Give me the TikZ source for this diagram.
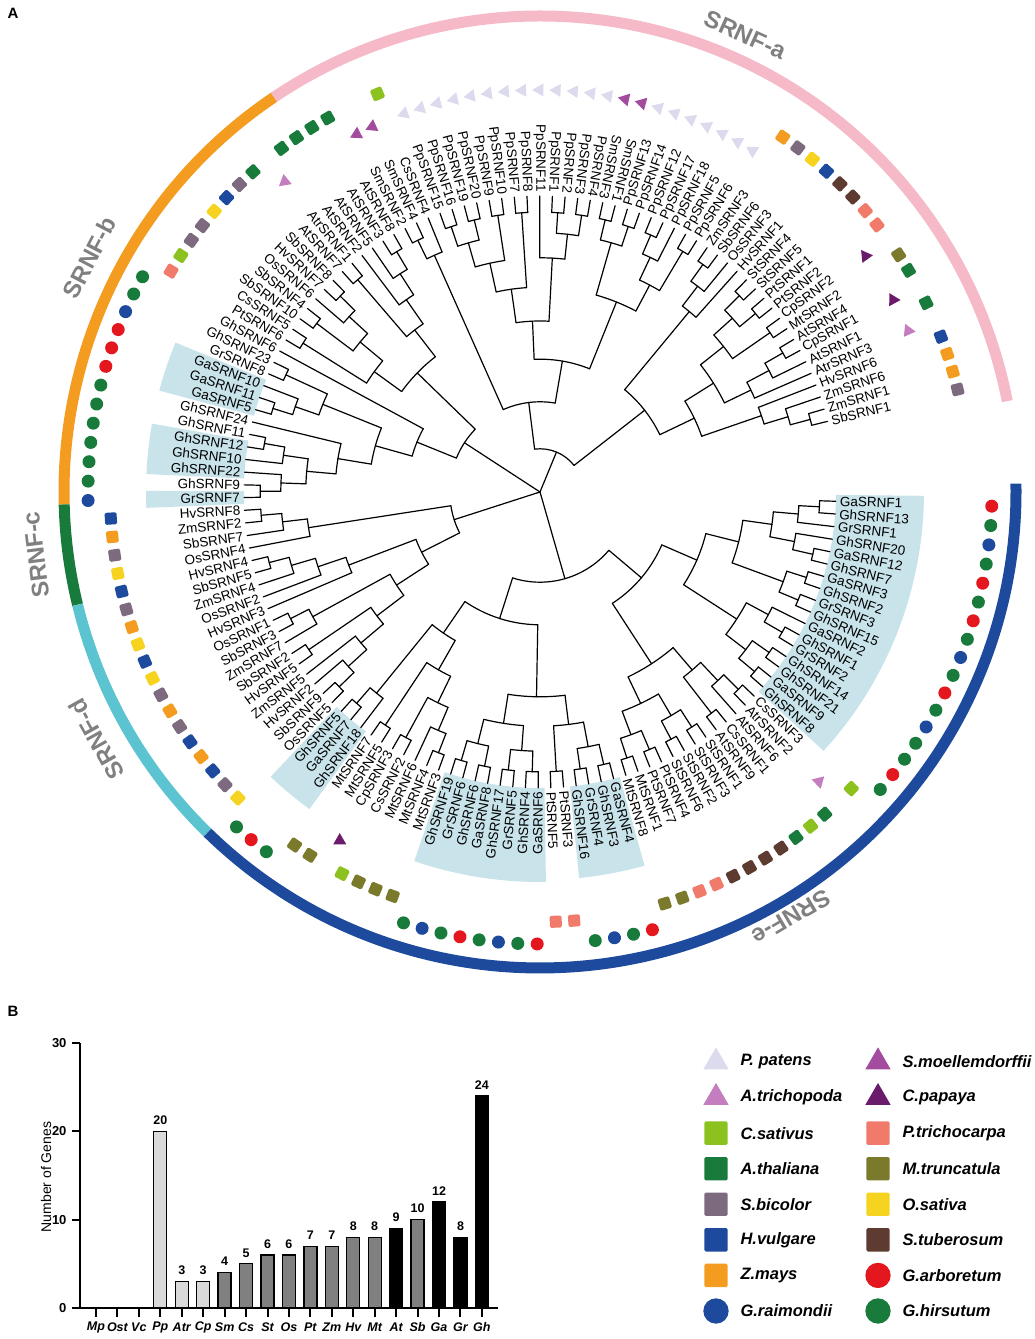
\documentclass[tikz,border=0pt]{standalone}
\usepackage{fontspec}
\setmainfont{Liberation Sans}
\usetikzlibrary{shapes.geometric}
\definecolor{cPp}{HTML}{DCDBEE}
\definecolor{cSm}{HTML}{A34C9E}
\definecolor{cAtr}{HTML}{C47DBF}
\definecolor{cCp}{HTML}{6A1B6B}
\definecolor{cCs}{HTML}{8CC21F}
\definecolor{cAt}{HTML}{187B3B}
\definecolor{cSb}{HTML}{7D6A7F}
\definecolor{cHv}{HTML}{1D4A9D}
\definecolor{cZm}{HTML}{F39C1F}
\definecolor{cPt}{HTML}{F17B6B}
\definecolor{cMt}{HTML}{7B792B}
\definecolor{cOs}{HTML}{F6D31F}
\definecolor{cSt}{HTML}{5D3B31}
\definecolor{cGa}{HTML}{E3171D}
\definecolor{ringA}{HTML}{F5B9C8}
\definecolor{ringD}{HTML}{5CC4D1}
\definecolor{hlblue}{HTML}{C8E3EA}
\definecolor{grpgray}{HTML}{808080}
\definecolor{barlight}{HTML}{D9D9D9}
\definecolor{barmid}{HTML}{808080}
\tikzset{
	branch/.style={line width=1.2,line cap=round},
	lbl/.style={font=\fontsize{13.5}{15}\selectfont,inner sep=0pt},
	mtri/.style={regular polygon,regular polygon sides=3,minimum size=15,inner sep=0pt},
	msq/.style={rectangle,rounded corners=1.5,minimum size=12,inner sep=0pt},
	mdot/.style={circle,minimum size=13,inner sep=0pt},
	ring/.style={line width=11},
	grp/.style={font=\fontsize{24}{28}\selectfont\bfseries,text=grpgray},
	panel/.style={font=\fontsize{15}{17}\selectfont\bfseries},
	axisline/.style={line width=2},
	ticklbl/.style={font=\fontsize{13}{15}\selectfont\bfseries,anchor=east},
	catlbl/.style={font=\fontsize{12.5}{14}\selectfont\bfseries\itshape},
	vallbl/.style={font=\fontsize{12.5}{14}\selectfont\bfseries},
	legtxt/.style={font=\fontsize{16.5}{19}\selectfont\bfseries\itshape,anchor=west}
}
\makeatletter
% species -> mark shape and colour
\def\defsp#1#2#3{\expandafter\def\csname stl@#1\endcsname{#2,fill=#3}%
	\expandafter\def\csname shp@#1\endcsname{#2}}
\defsp{Pp}{mtri}{cPp}\defsp{Sm}{mtri}{cSm}\defsp{Atr}{mtri}{cAtr}\defsp{Cp}{mtri}{cCp}
\defsp{Cs}{msq}{cCs}\defsp{At}{msq}{cAt}\defsp{Sb}{msq}{cSb}\defsp{Hv}{msq}{cHv}
\defsp{Zm}{msq}{cZm}\defsp{Pt}{msq}{cPt}\defsp{Mt}{msq}{cMt}\defsp{Os}{msq}{cOs}
\defsp{St}{msq}{cSt}\defsp{Gr}{mdot}{cHv}\defsp{Ga}{mdot}{cGa}\defsp{Gh}{mdot}{cAt}
\def\r@mtri{402}\def\r@msq{430}\def\r@mdot{452}
\def\Rtip{296}\def\Rlab{300}
\def\astart{13.8}\def\astep{2.46}
\newcount\leafno
\newif\ifcl
\gdef\lastang{0}\gdef\lastrad{0}\gdef\lasth{0}
\def\isclade#1#2\relax{\ifcat\relax\noexpand#1\cltrue\else\clfalse\fi}
\def\getsp#1SRNF#2\@nil{\def\spc{#1}}
\def\mknode#1{\node[#1,rotate=\lfang] (mk\the\leafno) at (\lfang:\mkrad) {};}
% one leaf: label, species mark
\newcommand\leaf[1]{%
	\global\advance\leafno by 1
	\pgfmathsetmacro\lfang{\astart+(\the\leafno-1)*\astep}%
	\getsp#1\@nil
	\def\side{R}%
	\ifdim\lfang pt>74.5pt \ifdim\lfang pt<271.4pt \def\side{L}\fi\fi
	\if L\side
		\pgfmathsetmacro\lrot{\lfang-180}%
		\node[lbl,anchor=east,rotate=\lrot] (lf\the\leafno) at (\lfang:\Rlab) {#1};%
	\else
		\node[lbl,anchor=west,rotate=\lfang] (lf\the\leafno) at (\lfang:\Rlab) {#1};%
	\fi
	\edef\mkopts{\csname stl@\spc\endcsname}%
	\edef\mkrad{\csname r@\csname shp@\spc\endcsname\endcsname}%
	\expandafter\mknode\expandafter{\mkopts}%
	\xdef\lastang{\lfang}\xdef\lastrad{\Rtip}\gdef\lasth{0}%
}
% one clade (#1=1 for the root)
\newcommand\Cx[2]{%
	\begingroup
	\def\cmin{1000}\def\cmax{-1000}\def\chh{0}\let\kids\@empty
	\def\clist{#2}%
	\@for\kid:=\clist\do{%
		\expandafter\isclade\kid\relax
		\ifcl\kid\else\expandafter\leaf\expandafter{\kid}\fi
		\pgfmathsetmacro\cmin{min(\cmin,\lastang)}%
		\pgfmathsetmacro\cmax{max(\cmax,\lastang)}%
		\pgfmathsetmacro\chh{max(\chh,\lasth)}%
		\ifx\kids\@empty\edef\kids{\lastang/\lastrad}\else\edef\kids{\kids,\lastang/\lastrad}\fi
	}%
	\ifnum#1=1 \def\crad{0}\def\hh{0}\else
		\pgfmathsetmacro\hh{\chh+1}%
		\pgfmathsetmacro\crad{max(\Rtip-14*\hh-2.2*\hh*\hh,22)}%
		\draw[branch] (\cmin:\crad) arc[start angle=\cmin,end angle=\cmax,radius=\crad];%
	\fi
	\foreach \ka/\kr in \kids {\draw[branch] (\ka:\crad) -- (\ka:\kr);}%
	\pgfmathsetmacro\cang{(\cmin+\cmax)/2}%
	\xdef\lastang{\cang}\xdef\lastrad{\crad}\xdef\lasth{\hh}%
	\endgroup
}
\protected\def\C#1{\Cx{0}{#1}}
\makeatother
% SRNF-a
\def\trAa{\C{\C{\C{\C{SbSRNF1,ZmSRNF1},ZmSRNF6},HvSRNF6},\C{\C{AtrSRNF3,\C{AtSRNF1,\C{CpSRNF1,AtSRNF4}}},\C{\C{MtSRNF2,CpSRNF2},\C{\C{PtSRNF2,PtSRNF1},\C{StSRNF5,StSRNF4}}}}}}
\def\trAb{\C{HvSRNF1,\C{OsSRNF3,\C{SbSRNF6,ZmSRNF3}}}}
\def\trAc{\C{\C{\C{PpSRNF6,PpSRNF5},\C{PpSRNF18,\C{PpSRNF17,PpSRNF12}}},\C{\C{PpSRNF14,PpSRNF13},\C{SmSRNF1,SmSRNF3}}}}
\def\trAd{\C{\C{\C{\C{PpSRNF4,PpSRNF3},\C{PpSRNF2,PpSRNF1}},PpSRNF11},\C{\C{PpSRNF8,PpSRNF7},\C{\C{PpSRNF10,PpSRNF9},\C{\C{PpSRNF20,PpSRNF19},\C{PpSRNF16,PpSRNF15}}}}}}
\def\trAe{\C{CsSRNF4,\C{SmSRNF4,SmSRNF2}}}
\def\trA{\C{\C{\trAa,\trAb},\C{\C{\trAc,\trAd},\trAe}}}
% SRNF-b
\def\trBa{\C{\C{\C{\C{AtSRNF8,AtSRNF3},AtSRNF5},AtSRNF2},\C{AtrSRNF1,AtSRNF7}}}
\def\trBb{\C{\C{\C{\C{SbSRNF8,HvSRNF7},OsSRNF6},\C{SbSRNF4,SbSRNF10}},\C{CsSRNF5,PtSRNF6}}}
\def\trBc{\C{\C{GhSRNF23,GrSRNF8},\C{GaSRNF10,\C{GaSRNF11,GaSRNF5}}}}
\def\trBd{\C{GhSRNF24,\C{\C{\C{GhSRNF11,GhSRNF12},GhSRNF10},\C{GhSRNF22,\C{GhSRNF9,GrSRNF7}}}}}
\def\trB{\C{\C{\trBa,\trBb},\C{GhSRNF6,\C{\trBc,\trBd}}}}
% SRNF-c and SRNF-d
\def\trC{\C{\C{\C{HvSRNF8,ZmSRNF2},SbSRNF7},OsSRNF4}}
\def\trDa{\C{\C{\C{\C{HvSRNF4,SbSRNF5},ZmSRNF4},OsSRNF2},HvSRNF3}}
\def\trDb{\C{\C{\C{OsSRNF1,SbSRNF3},ZmSRNF7},\C{\C{SbSRNF2,HvSRNF5},\C{ZmSRNF5,\C{HvSRNF2,\C{SbSRNF9,OsSRNF5}}}}}}
\def\trCD{\C{\trC,\C{\trDa,\trDb}}}
% SRNF-e
\def\trEa{\C{\C{\C{GhSRNF5,GaSRNF7},GhSRNF18},\C{\C{MtSRNF7,MtSRNF5},\C{\C{CpSRNF3,CsSRNF2},\C{MtSRNF6,\C{MtSRNF4,MtSRNF3}}}}}}
\def\trEb{\C{\C{\C{\C{GhSRNF19,GrSRNF6},\C{GhSRNF6,GaSRNF8}},\C{\C{GhSRNF17,GrSRNF5},\C{GhSRNF4,GaSRNF6}}},\C{\C{PtSRNF5,PtSRNF3},\C{\C{GhSRNF16,GrSRNF4},\C{GhSRNF3,GaSRNF4}}}}}
\def\trEc{\C{\C{\C{\C{MtSRNF8,MtSRNF1},\C{PtSRNF7,PtSRNF4}},\C{\C{StSRNF6,StSRNF2},\C{StSRNF3,StSRNF1}}},\C{\C{AtSRNF9,CsSRNF1},\C{AtSRNF6,\C{AtrSRNF2,CsSRNF3}}}}}
\def\trEd{\C{%
	\C{\C{\C{GhSRNF8,GaSRNF9},\C{GhSRNF21,GhSRNF14}},\C{\C{GrSRNF2,GhSRNF1},GaSRNF2}},%
	\C{\C{\C{GhSRNF15,GrSRNF3},\C{GhSRNF2,GaSRNF3}},\C{\C{\C{GhSRNF7,GaSRNF12},GhSRNF20},\C{GrSRNF1,\C{GhSRNF13,GaSRNF1}}}}%
	}}
\def\trE{\C{\C{\trEa,\trEb},\C{\trEc,\trEd}}}
\begin{document}
\begin{tikzpicture}[x=1pt,y=1pt]
	\useasboundingbox (0,0) rectangle (1035,1339);
	% Panel letters
	\node[panel] (pA) at (13,1326) {A};
	\node[panel] (pB) at (13,328) {B};
	\begin{scope}[shift={(540,847)}]
		% Highlighted cotton genes
		\foreach \ia/\ib/\ro in {60/62/394,65/67/394,69/69/394,88/90/392,98/105/390,108/111/388,125/141/384}{
			\pgfmathsetmacro\hA{\astart+(\ia-1.5)*\astep}
			\pgfmathsetmacro\hB{\astart+(\ib-0.5)*\astep}
			\fill[hlblue] (\hA:296) arc[start angle=\hA,end angle=\hB,radius=296] -- (\hB:\ro) arc[start angle=\hB,end angle=\hA,radius=\ro] -- cycle;
		}
		% Subfamily ring
		\foreach \s/\e/\col in {11/124/ringA,124/181.5/cZm,181.5/193.7/cAt,193.7/225.7/ringD,225.7/361/cHv}
			\draw[ring,color=\col] (\s:476) arc[start angle=\s,end angle=\e,radius=476];
		\node[grp,rotate=-24.2] (ga) at (65.8:501) {SRNF-a};
		\node[grp,rotate=62.5] (gb) at (152.5:508) {SRNF-b};
		\node[grp,rotate=97.1] (gc) at (187.1:508) {SRNF-c};
		\node[grp,rotate=119.1] (gd) at (209.1:508) {SRNF-d};
		\node[grp,rotate=-149.4] (ge) at (-59.4:494) {SRNF-e};
		% Tree with labels and species marks
		\Cx{1}{\trA,\trB,\trCD,\trE}
	\end{scope}
	% Bar chart
	\foreach \idx/\sname/\val/\bcol in {0/Mp/0/white,1/Ost/0/white,2/Vc/0/white,3/Pp/20/barlight,4/Atr/3/barlight,5/Cp/3/barlight,6/Sm/4/barmid,7/Cs/5/barmid,8/St/6/barmid,9/Os/6/barmid,10/Pt/7/barmid,11/Zm/7/barmid,12/Hv/8/barmid,13/Mt/8/barmid,14/At/9/black,15/Sb/10/barmid,16/Ga/12/black,17/Gr/8/black,18/Gh/24/black}{
		\pgfmathsetmacro\barx{96+21.44*\idx}
		\pgfmathsetmacro\bartop{31+8.833*\val}
		\ifnum\val>0
			\fill[fill=\bcol,draw=black,line width=1.3] (\barx-6.5,31) rectangle (\barx+6.5,\bartop);
			\node[vallbl] (v\idx) at (\barx,\bartop+11) {\val};
		\fi
		\draw[axisline] (\barx,31) -- (\barx,22);
		\node[catlbl] (c\idx) at (\barx,12) {\sname};
	}
	% Axes
	\draw[axisline] (80,31) -- (498,31);
	\draw[axisline] (80,31) -- (80,296);
	\foreach \t in {0,10,20,30}{
		\draw[axisline] (72,31+8.833*\t) -- (80,31+8.833*\t);
		\node[ticklbl] (t\t) at (70,31+8.833*\t) {\t};
	}
	\node[font=\fontsize{14}{16}\selectfont,rotate=90] (ylab) at (46,162) {Number of Genes};
	% Legend
	\foreach \i/\tx/\st/\col in {0/P. patens/mtri/cPp,1/A.trichopoda/mtri/cAtr,2/C.sativus/msq/cCs,3/A.thaliana/msq/cAt,4/S.bicolor/msq/cSb,5/H.vulgare/msq/cHv,6/Z.mays/msq/cZm,7/G.raimondii/mdot/cHv}{
		\node[\st,fill=\col,scale=1.95] (lm\i) at (716,277-35.57*\i) {};
		\node[legtxt] (lt\i) at (737,277-35.57*\i) {\tx};
	}
	\foreach \i/\tx/\st/\col in {0/S.moellemdorffii/mtri/cSm,1/C.papaya/mtri/cCp,2/P.trichocarpa/msq/cPt,3/M.truncatula/msq/cMt,4/O.sativa/msq/cOs,5/S.tuberosum/msq/cSt,6/G.arboretum/mdot/cGa,7/G.hirsutum/mdot/cAt}{
		\node[\st,fill=\col,scale=1.95] (rm\i) at (878,277-35.57*\i) {};
		\node[legtxt] (rt\i) at (899,277-35.57*\i) {\tx};
	}
\end{tikzpicture}
\end{document}
